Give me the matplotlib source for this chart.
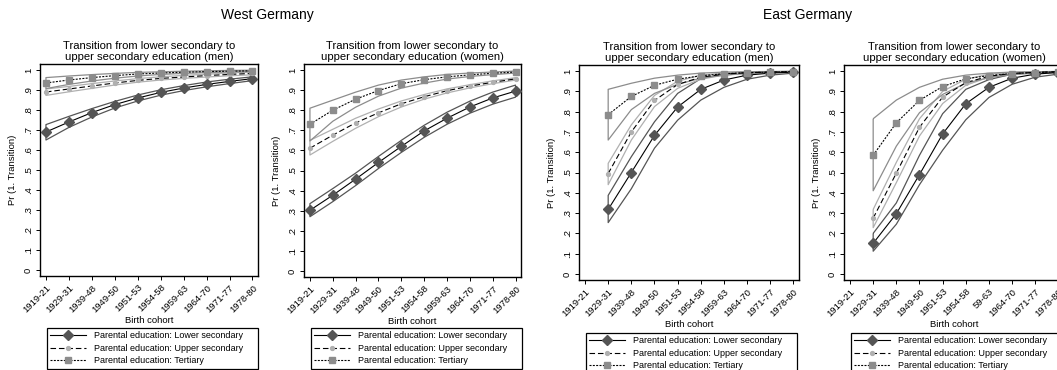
import numpy as np
import matplotlib
matplotlib.use("Agg")
import matplotlib.pyplot as plt
from matplotlib.lines import Line2D

plt.rcParams['font.family'] = ['Liberation Sans', 'DejaVu Sans']

# cohorts on the x axis
cohorts = ["1919-21", "1929-31", "1939-48", "1949-50", "1951-53",
           "1954-58", "1959-63", "1964-70", "1971-77", "1978-80"]
cohorts_ew = ["1919-21", "1929-31", "1939-48", "1949-50", "1951-53",
              "1954-58", "59-63", "1964-70", "1971-77", "1978-80"]
yticks = [0, .1, .2, .3, .4, .5, .6, .7, .8, .9, 1]
ytick_labels = ["0", ".1", ".2", ".3", ".4", ".5", ".6", ".7", ".8", ".9", "1"]

# West Germany, men (all 10 cohorts)
wm_low = [0.69, 0.74, 0.787, 0.827, 0.86, 0.888, 0.91, 0.928, 0.943, 0.957]
wm_low_hi = [0.727, 0.768, 0.807, 0.843, 0.875, 0.901, 0.922, 0.94, 0.954, 0.966]
wm_low_lo = [0.65, 0.713, 0.765, 0.81, 0.845, 0.874, 0.897, 0.916, 0.932, 0.947]
wm_up = [0.89, 0.905, 0.92, 0.935, 0.948, 0.958, 0.965, 0.972, 0.978, 0.983]
wm_up_hi = [0.905, 0.918, 0.932, 0.945, 0.957, 0.966, 0.973, 0.979, 0.985, 0.99]
wm_up_lo = [0.873, 0.891, 0.908, 0.925, 0.939, 0.95, 0.958, 0.965, 0.971, 0.976]
wm_ter = [0.935, 0.95, 0.962, 0.972, 0.98, 0.985, 0.989, 0.992, 0.994, 0.996]
wm_ter_hi = [0.962, 0.97, 0.977, 0.983, 0.988, 0.991, 0.994, 0.996, 0.998, 0.999]
wm_ter_lo = [0.907, 0.928, 0.945, 0.959, 0.97, 0.978, 0.983, 0.987, 0.99, 0.992]

# West Germany, women (all 10 cohorts)
ww_low = [0.302, 0.377, 0.457, 0.54, 0.62, 0.697, 0.76, 0.816, 0.861, 0.895]
ww_low_hi = [0.335, 0.41, 0.487, 0.57, 0.65, 0.725, 0.79, 0.845, 0.89, 0.925]
ww_low_lo = [0.27, 0.345, 0.425, 0.51, 0.59, 0.665, 0.73, 0.785, 0.83, 0.865]
ww_up = [0.611, 0.676, 0.737, 0.787, 0.832, 0.867, 0.897, 0.92, 0.939, 0.956]
ww_up_hi = [0.65, 0.705, 0.76, 0.806, 0.846, 0.878, 0.906, 0.927, 0.946, 0.962]
ww_up_lo = [0.577, 0.645, 0.71, 0.768, 0.816, 0.855, 0.886, 0.911, 0.932, 0.95]
ww_ter = [0.73, 0.80, 0.855, 0.898, 0.932, 0.952, 0.966, 0.976, 0.984, 0.99]
ww_ter_hi = [0.81, 0.85, 0.89, 0.925, 0.95, 0.966, 0.978, 0.985, 0.99, 0.995]
ww_ter_lo = [0.647, 0.745, 0.815, 0.87, 0.91, 0.935, 0.955, 0.968, 0.977, 0.985]

# East Germany, men (cohorts 1929-31 to 1978-80)
em_low = [0.318, 0.50, 0.683, 0.823, 0.91, 0.956, 0.98, 0.99, 0.995]
em_low_hi = [0.387, 0.578, 0.75, 0.89, 0.963, 0.985, 0.994, 0.997, 0.998]
em_low_lo = [0.253, 0.42, 0.62, 0.758, 0.857, 0.92, 0.96, 0.98, 0.99]
em_up = [0.495, 0.70, 0.855, 0.934, 0.97, 0.985, 0.992, 0.995, 0.997]
em_up_hi = [0.545, 0.735, 0.88, 0.95, 0.98, 0.99, 0.995, 0.997, 0.998]
em_up_lo = [0.44, 0.66, 0.825, 0.915, 0.96, 0.98, 0.99, 0.994, 0.996]
em_ter = [0.785, 0.875, 0.93, 0.96, 0.977, 0.987, 0.992, 0.995, 0.997]
em_ter_hi = [0.91, 0.94, 0.965, 0.98, 0.99, 0.995, 0.997, 0.998, 0.999]
em_ter_lo = [0.66, 0.81, 0.89, 0.935, 0.965, 0.98, 0.988, 0.993, 0.996]

# East Germany, women (cohorts 1929-31 to 1978-80)
ew_low = [0.151, 0.297, 0.49, 0.69, 0.839, 0.92, 0.965, 0.985, 0.993]
ew_low_hi = [0.20, 0.35, 0.585, 0.79, 0.91, 0.958, 0.985, 0.993, 0.997]
ew_low_lo = [0.112, 0.245, 0.44, 0.61, 0.76, 0.87, 0.935, 0.97, 0.985]
ew_up = [0.275, 0.497, 0.723, 0.872, 0.943, 0.975, 0.988, 0.994, 0.997]
ew_up_hi = [0.318, 0.55, 0.765, 0.9, 0.96, 0.985, 0.993, 0.997, 0.998]
ew_up_lo = [0.228, 0.45, 0.68, 0.84, 0.93, 0.97, 0.985, 0.992, 0.996]
ew_ter = [0.585, 0.745, 0.856, 0.924, 0.962, 0.978, 0.988, 0.993, 0.996]
ew_ter_hi = [0.765, 0.857, 0.92, 0.96, 0.98, 0.99, 0.995, 0.997, 0.998]
ew_ter_lo = [0.41, 0.63, 0.795, 0.885, 0.94, 0.968, 0.982, 0.99, 0.994]

legend_labels = ["Parental education: Lower secondary",
                 "Parental education: Upper secondary",
                 "Parental education: Tertiary"]

# styles: (line style, marker, marker size, marker colour, ci colour)
styles = [
    ('-', 'D', 4.6, '#555555', '#555555'),
    ((0, (5.0, 2.6)), 'o', 2.8, '#b0b0b0', '#b0b0b0'),
    ((0, (1.8, 1.2)), 's', 4.4, '#8c8c8c', '#8c8c8c'),
]

W, H = 1057, 370
fig = plt.figure(figsize=(W / 100, H / 100), dpi=100)


def make_panel(rect, title, xlabels, start, series, leg_top):
    ax = fig.add_axes([rect[0] / W, 1 - rect[3] / H,
                       (rect[2] - rect[0]) / W, (rect[3] - rect[1]) / H])
    for (est, hi, lo), (ls, mk, ms, mc, cc) in zip(series, styles):
        x = np.arange(start, start + len(est))
        ax.fill_between(x, lo, hi, facecolor='none', edgecolor=cc,
                        linewidth=0.9, zorder=1)
    for (est, hi, lo), (ls, mk, ms, mc, cc) in zip(series, styles):
        x = np.arange(start, start + len(est))
        ax.plot(x, est, color='black', linestyle=ls, linewidth=0.8,
                marker=mk, markersize=ms, markerfacecolor=mc,
                markeredgecolor=mc, zorder=3)
    ax.set_xlim(-0.26, len(xlabels) - 1 + 0.24)
    ax.set_ylim(-0.03, 1.03)
    ax.set_xticks(range(len(xlabels)))
    ax.set_xticklabels(xlabels, rotation=45, ha='right',
                       rotation_mode='anchor', fontsize=6.8)
    ax.set_yticks(yticks)
    ax.set_yticklabels(ytick_labels, rotation=90, va='center', fontsize=6.8)
    ax.tick_params(length=3, width=0.7, pad=2)
    for s in ax.spines.values():
        s.set_linewidth(1.0)
    ax.set_title(title, fontsize=8.1, pad=3, linespacing=1.05)
    ax.set_xlabel("Birth cohort", fontsize=6.8, labelpad=1)
    ax.set_ylabel("Pr (1. Transition)", fontsize=6.8, labelpad=5)

    handles = [Line2D([], [], color='black', linestyle=ls, linewidth=0.8,
                      marker=mk, markersize=ms, markerfacecolor=mc,
                      markeredgecolor=mc)
               for ls, mk, ms, mc, cc in styles]
    leg = ax.legend(handles, legend_labels, loc='upper left',
                    bbox_to_anchor=((rect[0] + 7) / W, 1 - leg_top / H,
                                    211 / W, 0),
                    bbox_transform=fig.transFigure, mode='expand',
                    fancybox=False, edgecolor='black', framealpha=1,
                    fontsize=6.5, handlelength=4.0, labelspacing=0.4,
                    borderpad=0.35, handletextpad=0.9, borderaxespad=0)
    leg.get_frame().set_linewidth(0.9)
    return ax


title_m = "Transition from lower secondary to\nupper secondary education (men)"
title_w = "Transition from lower secondary to\nupper secondary education (women)"

make_panel((40, 64, 258, 276), title_m, cohorts, 0,
           [(wm_low, wm_low_hi, wm_low_lo), (wm_up, wm_up_hi, wm_up_lo),
            (wm_ter, wm_ter_hi, wm_ter_lo)], 328)
make_panel((304, 64, 521, 277), title_w, cohorts, 0,
           [(ww_low, ww_low_hi, ww_low_lo), (ww_up, ww_up_hi, ww_up_lo),
            (ww_ter, ww_ter_hi, ww_ter_lo)], 328)
make_panel((579, 65, 799, 280), title_m, cohorts, 1,
           [(em_low, em_low_hi, em_low_lo), (em_up, em_up_hi, em_up_lo),
            (em_ter, em_ter_hi, em_ter_lo)], 333)
make_panel((844, 65, 1064, 280), title_w, cohorts_ew, 1,
           [(ew_low, ew_low_hi, ew_low_lo), (ew_up, ew_up_hi, ew_up_lo),
            (ew_ter, ew_ter_hi, ew_ter_lo)], 333)

fig.text(267.5 / W, 1 - 15 / H, "West Germany", ha='center', va='center',
         fontsize=10)
fig.text(808 / W, 1 - 15 / H, "East Germany", ha='center', va='center',
         fontsize=10)

fig.savefig("out.png", dpi=100)
